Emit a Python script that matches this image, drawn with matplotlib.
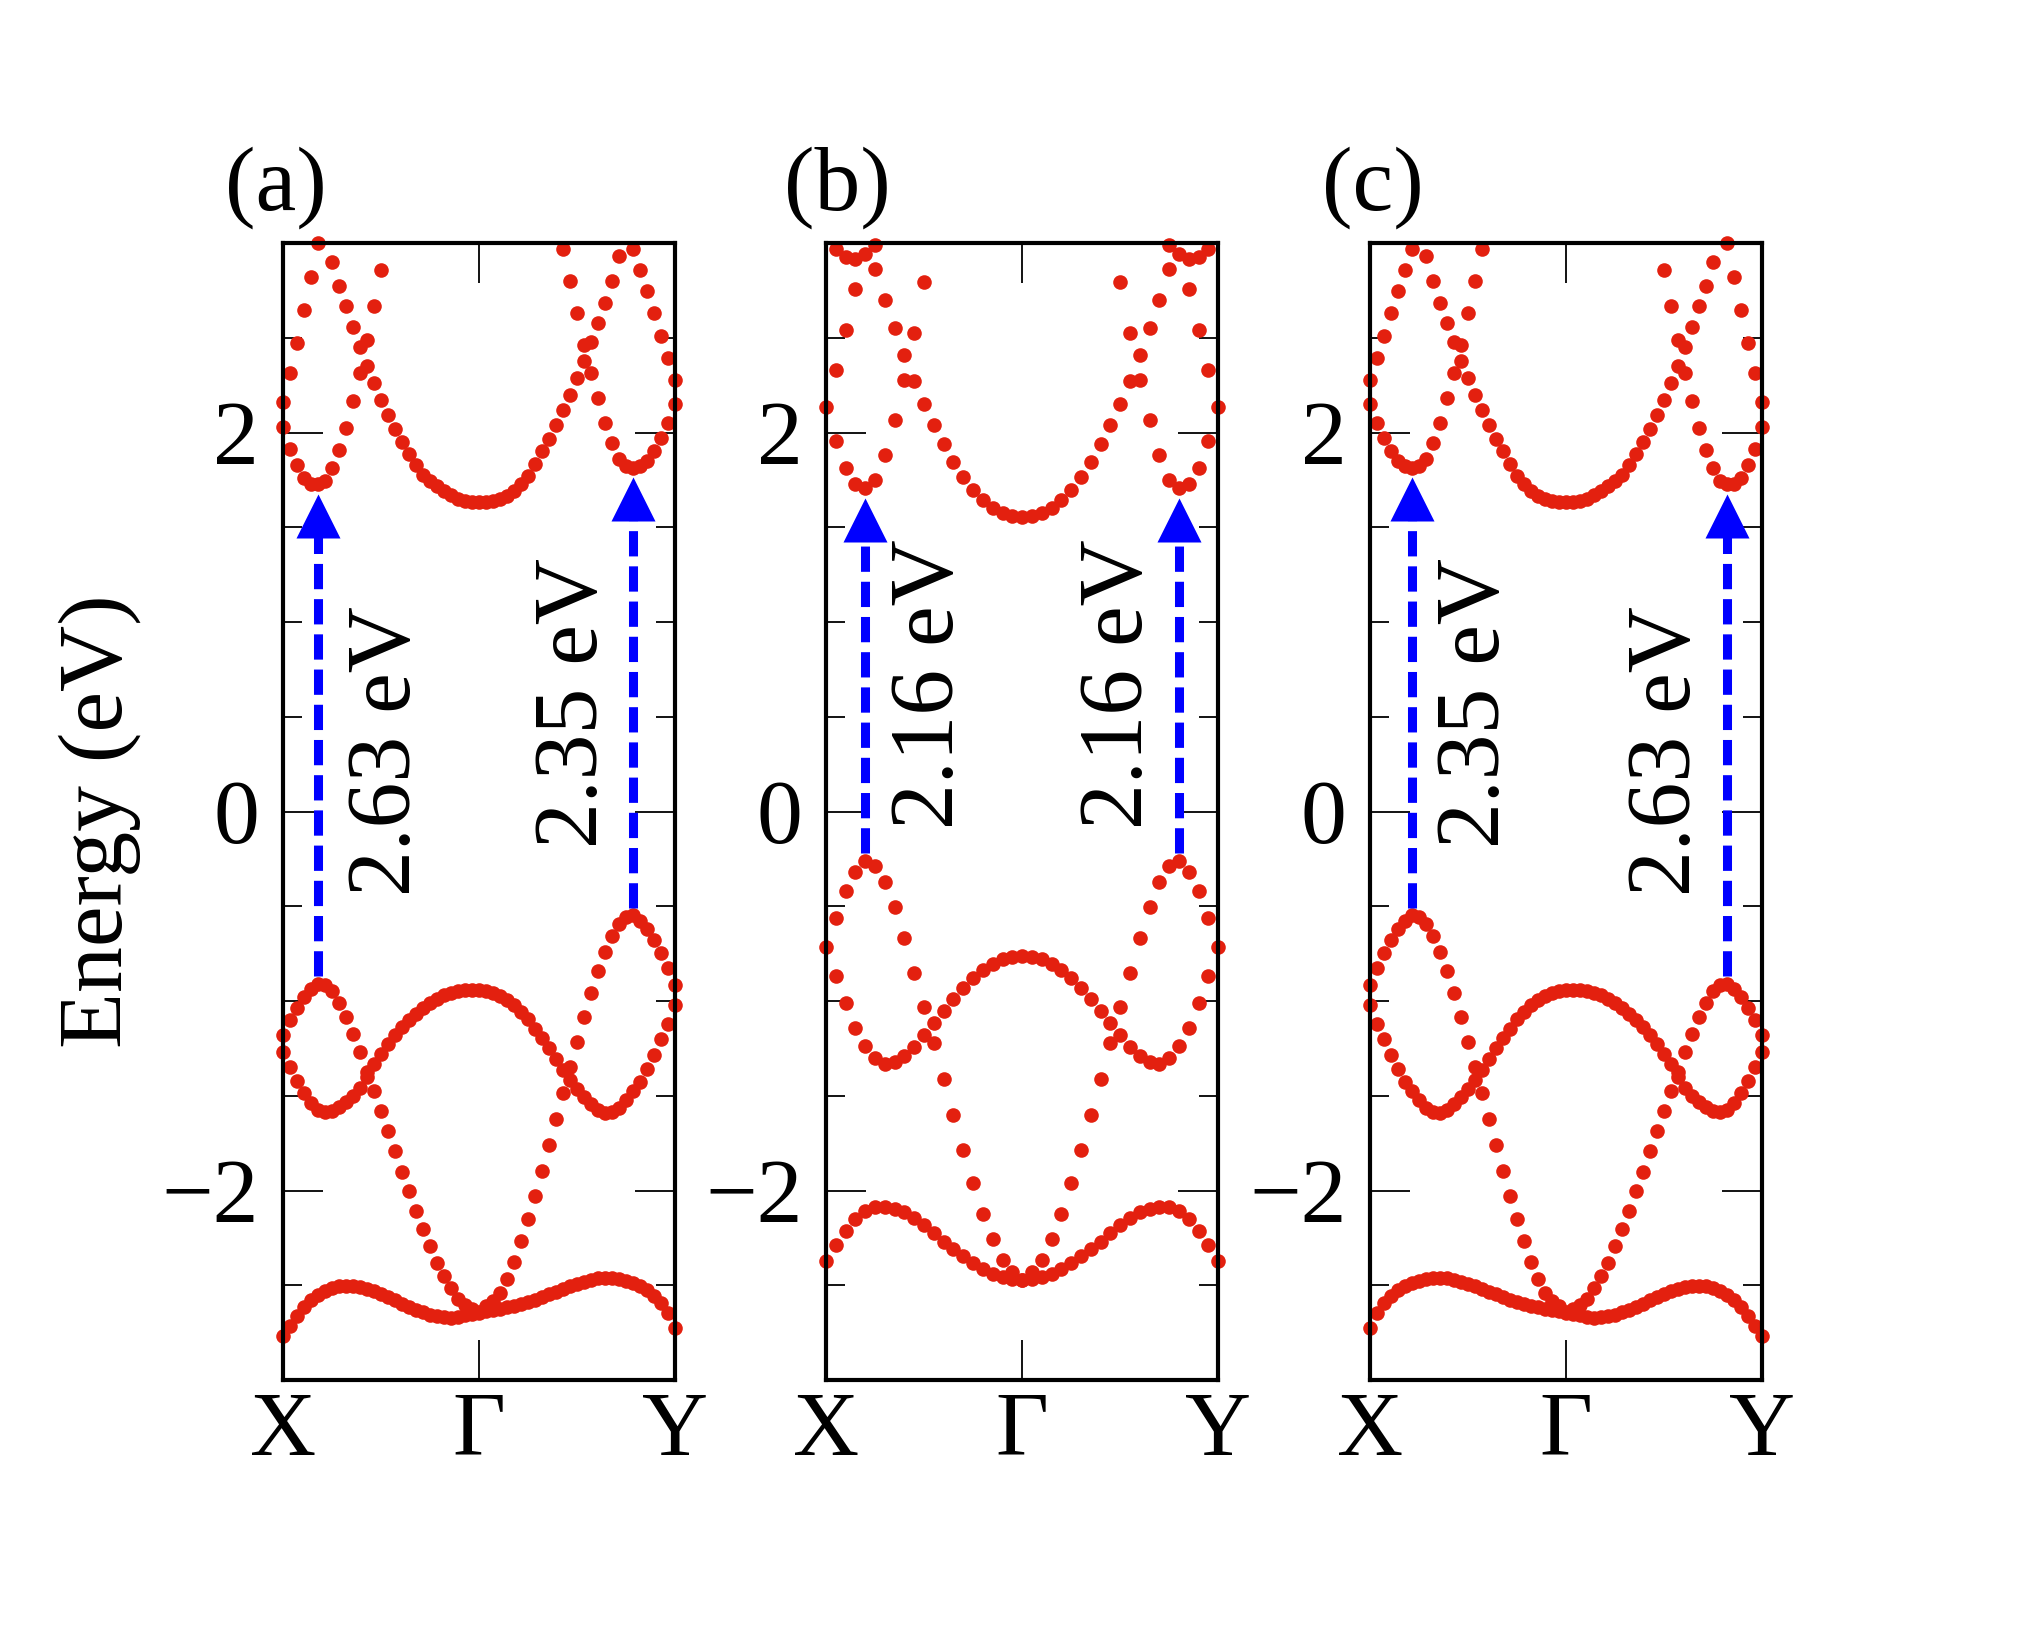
import numpy as np
import matplotlib
matplotlib.use("Agg")
import matplotlib.pyplot as plt
from matplotlib.ticker import MultipleLocator, FixedLocator

nan = np.nan

# ---- panel (a): 57 k-points along X - Gamma - Y (eV) ----
a_low = [-2.769, -2.716, -2.663, -2.615, -2.580, -2.551, -2.530, -2.514, -2.505, -2.502,
         -2.502, -2.507, -2.518, -2.530, -2.544, -2.562, -2.580, -2.597, -2.613, -2.629,
         -2.643, -2.655, -2.664, -2.670, -2.671, -2.666, -2.657, -2.650, -2.645,
         -2.638, -2.631, -2.624, -2.617, -2.608, -2.599, -2.588, -2.576, -2.562, -2.548,
         -2.534, -2.519, -2.505, -2.493, -2.482, -2.470, -2.463, -2.461, -2.463, -2.468,
         -2.477, -2.489, -2.505, -2.527, -2.555, -2.594, -2.647, -2.724]
a_v2 = [-1.181, -1.102, -1.035, -0.979, -0.935, -0.908, -0.917, -0.947, -1.011, -1.085,
        -1.173, -1.269, -1.375, -1.475, -1.581, -1.687, -1.792, -1.903, -2.004, -2.106,
        -2.203, -2.295, -2.380, -2.451, -2.516, -2.574, -2.604, -2.627, -2.640,
        -2.610, -2.583, -2.542, -2.468, -2.376, -2.269, -2.150, -2.027, -1.898, -1.762,
        -1.625, -1.486, -1.349, -1.217, -1.085, -0.958, -0.842, -0.741, -0.658, -0.595,
        -0.556, -0.548, -0.579, -0.621, -0.680, -0.746, -0.826, -0.917]
a_v3 = [-1.269, -1.349, -1.423, -1.486, -1.537, -1.574, -1.586, -1.581, -1.560, -1.533,
        -1.502, -1.458, -1.401, -1.331, -1.278, -1.225, -1.181, -1.137, -1.099, -1.067,
        -1.035, -1.011, -0.988, -0.970, -0.958, -0.949, -0.944, -0.944, -0.944,
        -0.949, -0.958, -0.975, -0.996, -1.023, -1.058, -1.097, -1.146, -1.194, -1.246,
        -1.305, -1.363, -1.419, -1.467, -1.507, -1.546, -1.577, -1.592, -1.586, -1.563,
        -1.525, -1.475, -1.428, -1.361, -1.283, -1.201, -1.120, -1.023]
a_cv = ([2.030, 1.915, 1.827, 1.762, 1.730, 1.727, 1.744, 1.815, 1.907, 2.026,
         2.168, 2.316, 2.489, 2.668, 2.855] + [nan] * 25 +
        [2.968, 2.797, 2.630, 2.462, 2.316, 2.180, 2.048, 1.942, 1.862, 1.822,
         1.815, 1.824, 1.850, 1.901, 1.972, 2.048, 2.153])
a_cp = ([nan] * 7 +
        [2.898, 2.774, 2.665, 2.556, 2.453, 2.351, 2.259, 2.171, 2.092, 2.016,
         1.951, 1.889, 1.827, 1.778, 1.744, 1.716, 1.691, 1.668, 1.651, 1.638,
         1.633, 1.631,
         1.633, 1.638, 1.649, 1.665, 1.691, 1.727, 1.771, 1.836, 1.903, 1.968,
         2.039, 2.118, 2.198, 2.286, 2.377, 2.480, 2.577, 2.686, 2.797, 2.929] +
        [nan] * 8)
a_cr = ([2.162, 2.312, 2.471, 2.644, 2.820, 3.000] + [nan] * 44 +
        [2.970, 2.859, 2.748, 2.628, 2.510, 2.392, 2.277])

# ---- panel (b): X - Gamma half (21 k-points), path is symmetric about Gamma ----
b_low_half = [-2.371, -2.286, -2.212, -2.150, -2.106, -2.088, -2.088, -2.097, -2.115, -2.145,
              -2.182, -2.226, -2.270, -2.309, -2.345, -2.380, -2.415, -2.438, -2.456, -2.465,
              -2.470]
b_v2_half = [-0.714, -0.560, -0.421, -0.319, -0.261, -0.289, -0.372, -0.504, -0.670, -0.850,
             -1.034, -1.224, -1.414, -1.602, -1.788, -1.961, -2.124, -2.256, -2.366, -2.430,
             -2.470]
b_v3_half = [nan, -0.869, -1.013, -1.140, -1.236, -1.303, -1.330, -1.321, -1.291, -1.245,
             -1.180, -1.115, -1.052, -0.992, -0.929, -0.881, -0.837, -0.806, -0.781, -0.767,
             -0.764]
b_cv_half = [2.136, 1.956, 1.815, 1.727, 1.707, 1.751, 1.880, 2.065, 2.277, 2.527,
             2.794] + [nan] * 10
b_cp_half = [nan] * 5 + [2.862, 2.700, 2.550, 2.409, 2.273, 2.153, 2.042, 1.937, 1.845,
                         1.765, 1.698, 1.645, 1.601, 1.575, 1.557, 1.554]
b_cr_half = [nan, 2.330, 2.541, 2.757] + [nan] * 17
b_ct_half = [nan, 2.968, 2.926, 2.915, 2.944, 2.991] + [nan] * 15

# gap annotations: (k index, label, text x in axes fraction, text y in eV)
a_gaps = [(5, "2.63 eV", 0.267, 0.32), (50, "2.35 eV", 0.745, 0.575)]
b_gaps = [(4, "2.16 eV", 0.268, 0.67), (36, "2.16 eV", 0.750, 0.67)]
c_gaps = [(6, "2.35 eV", 0.272, 0.575), (51, "2.63 eV", 0.758, 0.32)]

panel_labels = ["(a)", "(b)", "(c)"]
kpath_labels = ["X", "\u0393", "Y"]


def full_path(half):
    # Y side of panel (b) mirrors the X side
    half = list(half)
    return half + half[-2::-1]


RED = "#e3200f"
BLUE = "#0000ff"

plt.rcParams["font.family"] = ["Liberation Serif", "DejaVu Serif"]
plt.rcParams["font.size"] = 66

fig = plt.figure(figsize=(20.4, 16.43), dpi=100)
W, H = 2040.0, 1643.0
ax_w, ax_b, ax_h = 392.3 / W, 1 - 1380 / H, 1137 / H
lefts = [282.7 / W, 826 / W, 1370 / W]

panels = [
    ([a_low, a_v2, a_v3], [a_cv, a_cp, a_cr], a_gaps),
    ([full_path(b) for b in (b_low_half, b_v2_half, b_v3_half)],
     [full_path(b) for b in (b_cv_half, b_cp_half, b_cr_half, b_ct_half)], b_gaps),
    ([np.array(b)[::-1] for b in (a_low, a_v2, a_v3)],
     [np.array(b)[::-1] for b in (a_cv, a_cp, a_cr)], c_gaps),
]

label_x = [276 / W, 837 / W, 1373 / W]

for p, (val, cond, gaps) in enumerate(panels):
    ax = fig.add_axes([lefts[p], ax_b, ax_w, ax_h])
    val = [np.asarray(v, dtype=float) for v in val]
    cond = [np.asarray(c, dtype=float) for c in cond]
    k = np.linspace(0, 1, len(val[0]))
    for band in val + cond:
        ax.plot(k, band, "o", ms=10.5, color=RED, mec="none", clip_on=False, zorder=2)

    # head size in eV for a 32 pt triangle marker
    head = 32 * 100 / 72 / (ax_h * H) * 6.0
    for i, txt, tx, ty in gaps:
        vbm = np.nanmax([v[i] for v in val])
        cbm = np.nanmin([c[i] for c in cond])
        tip = cbm - 0.05
        ax.plot([k[i], k[i]], [vbm + 0.04, tip - head + 0.02], color=BLUE, lw=6.5,
                dashes=(2.8, 1.1), dash_capstyle="butt", zorder=3)
        ax.plot(k[i], tip - head / 2, marker="^", ms=32, color=BLUE, mec="none", zorder=3)
        ax.text(tx, ty, txt, rotation=90, ha="center", va="center")

    ax.set_xlim(0, 1)
    ax.set_ylim(-3, 3)
    ax.set_xticks([0, 0.5, 1])
    ax.set_xticklabels(kpath_labels)
    ax.yaxis.set_major_locator(FixedLocator([-2, 0, 2]))
    ax.yaxis.set_minor_locator(MultipleLocator(0.5))
    ax.set_yticklabels(["\u22122", "0", "2"])
    ax.tick_params(which="both", direction="in", left=True, right=True, top=True, bottom=True)
    ax.tick_params(axis="y", which="major", length=29, width=1.3, pad=17)
    ax.tick_params(axis="y", which="minor", length=14, width=1.3)
    ax.tick_params(axis="x", which="major", length=29, width=1.3, pad=8)
    for s in ax.spines.values():
        s.set_linewidth(3.0)

    fig.text(label_x[p], 1 - 188 / H, panel_labels[p], ha="center", va="center")

fig.text(100 / W, 0.5, "Energy (eV)", rotation=90, ha="center", va="center")

fig.savefig("out.png", dpi=100)
